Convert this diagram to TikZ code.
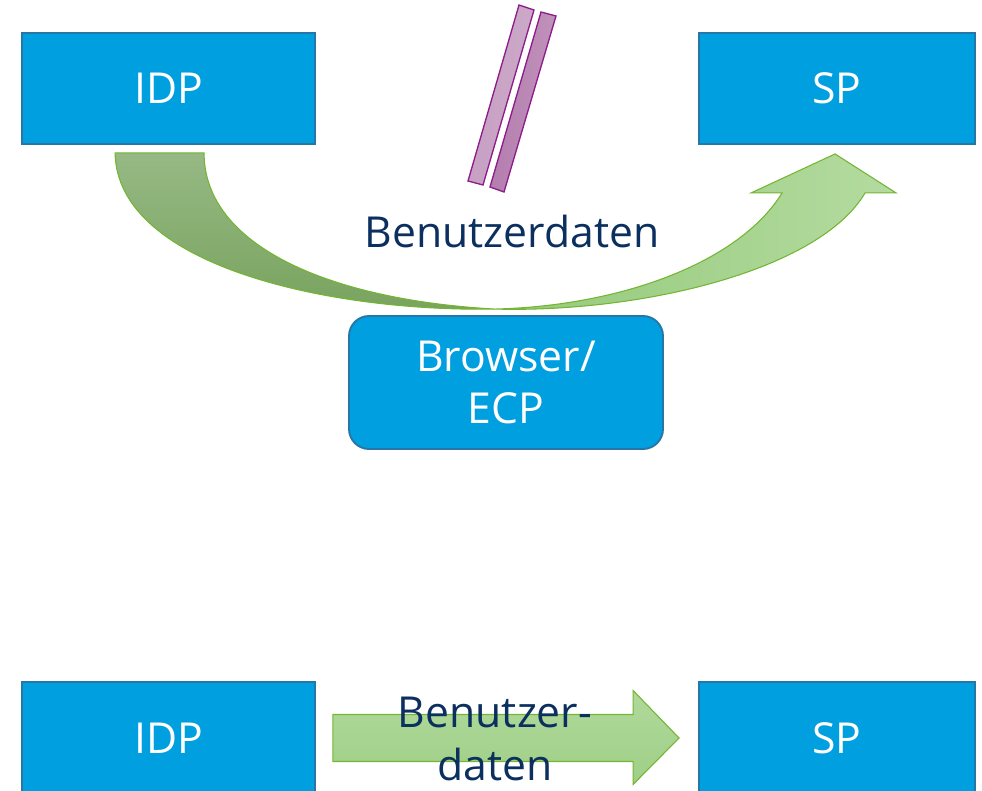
\documentclass[tikz,border=0pt]{standalone}
\usepackage{fontspec}
\setmainfont{Open Sans}
\usetikzlibrary{calc}
\definecolor{boxblue}{HTML}{009FDF}
\definecolor{boxedge}{HTML}{2477A6}
\definecolor{navy}{HTML}{0B2F5E}
\definecolor{greenedge}{HTML}{74B532}
\definecolor{purpleedge}{HTML}{8E1C8B}
\definecolor{darkgreenA}{HTML}{97B985}
\definecolor{darkgreenB}{HTML}{78A35E}
\definecolor{lightgreenA}{HTML}{94C97A}
\definecolor{lightgreenB}{HTML}{B4DBA0}
\definecolor{flatgreenA}{HTML}{B0D99B}
\definecolor{flatgreenB}{HTML}{9FCF86}
\definecolor{barlightA}{HTML}{C7A0C3}
\definecolor{barlightB}{HTML}{CCA9C8}
\definecolor{bardarkA}{HTML}{B47DAE}
\definecolor{bardarkB}{HTML}{C092BB}
\begin{document}
\begin{tikzpicture}[x=0.75pt,y=-0.75pt,
  box/.style={draw=boxedge, line width=1.4pt, fill=boxblue, text=white,
    font=\fontsize{32}{39}\selectfont, align=center, inner sep=0pt},
  label text/.style={text=navy, font=\fontsize{32}{40}\selectfont, align=center, inner sep=0pt},
  green arrow/.style={draw=greenedge, line width=0.8pt, line join=miter},
  bar/.style={draw=purpleedge, line width=1pt, line join=miter}]
\useasboundingbox (0,0) rectangle (982,791);

% upper row: provider boxes and the client in between
\node[box, minimum width=293*0.75pt, minimum height=111*0.75pt] (idpA) at (168.5,88.5) {IDP};
\node[box, minimum width=276*0.75pt, minimum height=111*0.75pt] (spA) at (837,88.5) {SP};
\node[box, rounded corners=15pt, minimum width=314*0.75pt, minimum height=133*0.75pt] (brw) at (506,382.5) {Browser/\\ECP};

% curved flow from IDP through the client to SP
\coordinate (dip) at ($(brw.north)+(-11,-6)$);
\path[green arrow, top color=darkgreenA, bottom color=darkgreenB]
  ($(idpA.south west)+(94,8)$) .. controls ($(idpA.south west)+(96,121)$) and (330,312) .. (dip)
  .. controls (330,300) and ($(idpA.south west)+(183,101)$) .. ($(idpA.south west)+(183,8)$) -- cycle;
\path[green arrow, left color=lightgreenA, right color=lightgreenB]
  (dip) .. controls (640,313) and ($(spA.south west)+(121,126)$) .. ($(spA.south west)+(167,48)$)
  -- ($(spA.south west)+(198,48)$) -- ($(spA.south west)+(137,9)$) -- ($(spA.south west)+(53,48)$)
  -- ($(spA.south west)+(84,48)$) .. controls ($(spA.south west)+(41,118)$) and (620,306) .. (dip) -- cycle;

% interrupted direct path (two slanted bars)
\path[bar, left color=barlightA, right color=barlightB]
  (519,5) -- (534,10) -- (483,185) -- (468,181) -- cycle;
\path[bar, left color=bardarkA, right color=bardarkB]
  (541,12) -- (556,16) -- (504,192) -- (490,187) -- cycle;

\node[label text] (dataA) at (512,232) {Benutzerdaten};

% lower row: direct transfer
\node[box, minimum width=293*0.75pt, minimum height=112*0.75pt] (idpB) at (168.5,738) {IDP};
\node[box, minimum width=276*0.75pt, minimum height=112*0.75pt] (spB) at (837,738) {SP};

\path[green arrow, top color=flatgreenA, bottom color=flatgreenB]
  ($(idpB.east)+(17,-23.5)$) -- ($(spB.west)+(-65,-23.5)$) -- ($(spB.west)+(-65,-47.5)$)
  -- ($(spB.west)+(-19,0)$) -- ($(spB.west)+(-65,46.5)$) -- ($(spB.west)+(-65,23.5)$)
  -- ($(idpB.east)+(17,23.5)$) -- cycle;
\node[label text] (dataB) at (495,739) {Benutzer-\\daten};
\end{tikzpicture}
\end{document}
